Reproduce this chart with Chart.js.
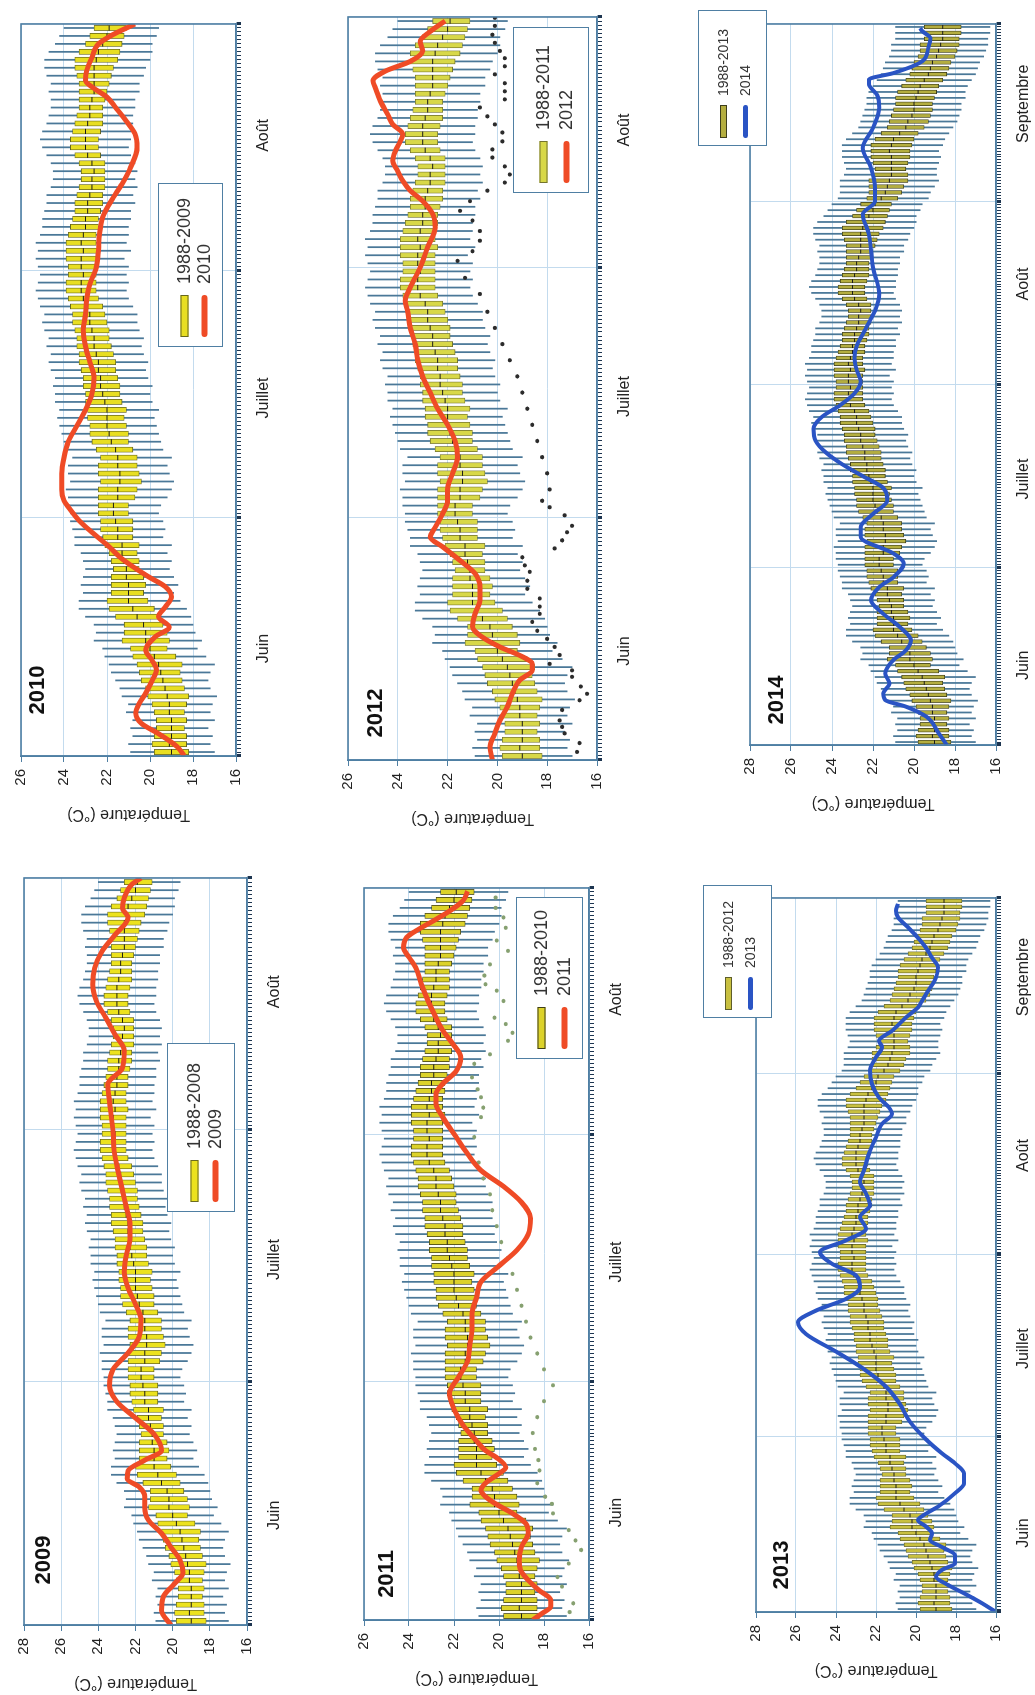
<!DOCTYPE html>
<html lang="fr">
<head>
<meta charset="utf-8">
<title>Températures 2009-2014</title>
<script src="https://cdn.jsdelivr.net/npm/chart.js@4.4.1/dist/chart.umd.min.js"></script>
<style>
  html, body { margin: 0; padding: 0; background: #fff; }
  body { width: 1035px; height: 1695px; overflow: hidden; position: relative; }
  /* the figure is laid out in its own (landscape) frame, then turned a quarter left */
  #fig { position: absolute; left: 0; top: 0; width: 1695px; height: 1035px;
         transform-origin: 0 0; transform: translate(0, 1695px) rotate(-90deg); }
  .panel { position: absolute; }
  .year { position: absolute; font: bold 22px "Liberation Sans", Arial, sans-serif; color: #111;
          transform: translate(-50%, -50%); white-space: nowrap; }
  .leg { position: absolute; box-sizing: border-box; border: 1.5px solid #4f7fa3; background: #fff;
         font-family: "Liberation Sans", Arial, sans-serif; color: #333; }
  .leg .row { position: absolute; display: flex; align-items: center; white-space: nowrap;
              transform: translateY(-50%); }
  .leg .sym { display: inline-block; box-sizing: border-box; }
</style>
</head>
<body>
<div id="fig"></div>
<script>
// ─── axis labels ───
const monthNames = ['Juin', 'Juillet', 'Août', 'Septembre'];
const monthLabelAt = [14, 45.5, 78.5, 109];
const monthEdges = [0.5, 30.5, 61.5, 92.5, 122.5];

// ─── reference period, daily box plots (1 = 1 June) ───
const climLow = [17.0,17.2,17.1,17.3,17.0,17.2,17.1,16.9,17.2,17.3, 17.2,17.0,17.4,17.8,17.6,17.9,18.0,18.1,18.3,18.6,
  18.9,18.7,18.9,19.1,19.0,19.2,19.0,19.4,19.3,19.4, 19.6,19.5,19.2,19.0,18.9,19.1,19.2,19.0,19.4,19.5,
  19.6,19.7,19.8,19.6,19.9,20.0,19.9,20.1,20.2,20.1, 20.3,20.4,20.3,20.5,20.6,20.6,20.8,21.0,21.1,21.0,
  21.1,21.0,21.2,20.9,21.1,21.0,21.0,20.9,20.9,20.7, 20.8,20.6,20.7,20.6,20.7,20.9,21.0,20.9,20.9,20.8,
  20.8,20.7,20.7,20.5,20.5,20.3,20.2,20.0,19.9,19.9, 19.7,19.6,19.3,19.2,19.0,18.8,18.9,18.9,18.8,18.7,
  18.8,18.6,18.5,18.3,18.1,17.9,17.8,17.7,17.7,17.5, 17.5,17.4,17.2,17.0,16.9,16.8,16.6,16.5,16.4,16.4,
  16.3,16.3];
const climQ1 = [18.2,18.3,18.3,18.4,18.3,18.4,18.3,18.2,18.4,18.5, 18.6,18.5,18.8,19.2,19.1,19.2,19.4,19.6,19.8,20.1,
  20.3,20.2,20.3,20.5,20.5,20.6,20.5,20.8,20.8,20.8, 21.0,21.0,20.7,20.6,20.4,20.5,20.6,20.6,20.8,21.0,
  21.0,21.1,21.2,21.1,21.3,21.4,21.4,21.5,21.6,21.6, 21.7,21.8,21.9,21.9,22.0,22.1,22.2,22.4,22.5,22.5,
  22.5,22.5,22.5,22.4,22.5,22.5,22.4,22.4,22.3,22.2, 22.2,22.1,22.1,22.1,22.1,22.3,22.4,22.4,22.3,22.2,
  22.2,22.2,22.1,22.0,21.9,21.8,21.7,21.5,21.4,21.3, 21.2,21.1,20.8,20.6,20.5,20.3,20.3,20.4,20.3,20.2,
  20.2,20.1,20.0,19.8,19.5,19.3,19.2,19.1,19.1,19.0, 18.9,18.8,18.6,18.4,18.3,18.2,18.0,17.9,17.8,17.8,
  17.7,17.7];
const climMed = [19.0,19.1,19.0,19.0,19.0,19.1,19.1,19.2,19.3,19.4, 19.5,19.6,19.8,20.0,20.2,20.2,20.3,20.6,20.8,21.0,
  21.0,21.0,21.1,21.1,21.2,21.3,21.3,21.5,21.5,21.6, 21.7,21.7,21.5,21.5,21.4,21.4,21.5,21.5,21.6,21.8,
  21.9,22.0,22.0,22.0,22.1,22.2,22.3,22.3,22.4,22.4, 22.5,22.6,22.6,22.7,22.8,22.8,22.9,23.1,23.2,23.2,
  23.1,23.2,23.2,23.1,23.2,23.1,23.0,23.0,22.9,22.9, 22.8,22.7,22.7,22.6,22.7,22.9,23.0,23.0,23.0,22.9,
  22.8,22.8,22.7,22.6,22.6,22.6,22.6,22.5,22.4,22.2, 22.0,21.9,21.6,21.4,21.3,21.2,21.1,21.1,21.1,21.1,
  21.2,21.1,21.0,20.7,20.4,20.3,20.1,20.0,20.0,19.9, 19.8,19.7,19.5,19.3,19.2,19.1,18.9,18.8,18.7,18.6,
  18.6,18.6];
const climQ3 = [19.8,19.9,19.8,19.7,19.7,19.8,19.9,20.1,20.2,20.4, 20.5,20.6,20.8,20.9,21.3,21.2,21.2,21.6,21.9,22.0,
  21.8,21.8,21.8,21.7,21.8,21.9,22.1,22.2,22.3,22.3, 22.4,22.4,22.4,22.4,22.3,22.4,22.4,22.3,22.5,22.7,
  22.8,22.8,22.9,22.9,23.0,23.0,23.1,23.1,23.2,23.3, 23.3,23.4,23.4,23.5,23.6,23.6,23.7,23.8,23.9,23.9,
  23.8,23.8,23.9,23.9,23.9,23.8,23.7,23.6,23.5,23.5, 23.4,23.3,23.2,23.2,23.3,23.5,23.7,23.7,23.6,23.5,
  23.4,23.3,23.3,23.3,23.3,23.4,23.5,23.5,23.3,23.0, 22.8,22.6,22.3,22.2,22.2,22.2,22.0,21.9,22.0,22.1,
  22.1,22.1,21.9,21.6,21.3,21.2,21.1,21.0,20.9,20.9, 20.8,20.6,20.4,20.2,20.1,20.0,19.8,19.7,19.7,19.5,
  19.5,19.5];
const climHigh = [20.9,21.0,20.8,20.9,20.8,21.1,21.0,21.3,21.4,21.6, 21.8,21.9,22.1,22.2,22.6,22.5,22.6,23.0,23.3,23.3,
  23.1,23.2,23.1,23.0,23.1,23.2,23.5,23.5,23.6,23.7, 23.7,23.8,23.8,23.9,23.7,23.8,23.8,23.6,23.9,24.0,
  24.1,24.2,24.3,24.2,24.4,24.4,24.5,24.4,24.6,24.7, 24.6,24.8,24.7,24.9,25.0,24.9,25.1,25.2,25.3,25.2,
  25.1,25.2,25.3,25.2,25.3,25.1,25.0,25.0,24.9,24.8, 24.8,24.6,24.5,24.5,24.6,24.8,25.0,25.1,25.0,24.8,
  24.7,24.6,24.6,24.7,24.6,24.8,24.9,24.9,24.7,24.4, 24.2,24.0,23.7,23.6,23.6,23.6,23.4,23.3,23.4,23.5,
  23.5,23.5,23.3,23.0,22.7,22.6,22.5,22.4,22.3,22.3, 22.2,22.0,21.8,21.6,21.5,21.4,21.2,21.1,21.1,20.9,
  20.9,20.9];

// ─── year curves ───
const days2009 = [0.5,2.3,4,5.6,6.9,8.5,10.1,11.8,13.4,15, 16.3,17.5,18.5,19.5,20.8,22,24,26,28,30,
  32,34,36,38,40,42,44,46,48,50, 52,54,56,58.9,61,65,67.1,69.1,71.2,73.2,
  75.3,77.3,79.4,81.4,83.5,85.5,87.6,88.8,90.1,91.7, 92.5];
const temp2009 = [20.1,20.6,20.5,19.9,19.45,19.6,20.1,20.6,21.3,21.5, 21.5,21.8,22.45,22.4,21.5,20.6,21.0,22.0,23.0,23.4,
  23.2,22.4,21.8,21.7,22.0,22.4,22.6,22.5,22.3,22.3, 22.5,22.7,22.9,23.15,23.2,23.4,23.5,22.7,22.6,23.1,
  23.6,24.1,24.3,24.2,23.8,23.1,22.4,22.7,22.6,22.2, 21.7];

const days2010 = [0.5,1.7,3.3,4.6,5.9,7.1,8.4,10,11.3,12.5, 13.8,15.5,16.7,18,19.2,20.5,21.8,23,24.3,25.5,
  26.8,28.5,30.1,31.8,32.6,34,36,38,40,42, 44,46,48,50,52,54,56,57.7,59.8,61.9,
  64,66.1,68.2,70.3,72.4,74.5,77,78.7,80.3,82, 83.3,84.5,85.4,86.6,88.3,90,91.2,92.5];
const temp2010 = [18.4,18.75,19.6,20.4,20.66,20.5,20.2,19.9,19.7,19.9, 20.2,19.75,19.1,19.6,19.3,19.0,19.3,20.05,20.8,21.4,
  21.9,22.65,23.3,23.8,24.0,24.1,24.1,24.0,23.8,23.4, 23.0,22.7,22.6,22.8,23.0,23.1,23.0,22.95,22.8,22.5,
  22.4,22.35,22.2,21.8,21.3,20.9,20.6,20.7,21.1,21.6, 22.0,22.65,23.0,22.95,22.7,22.4,21.7,20.7];

const days2011 = [0.5,1.3,2.2,3,4.3,5.5,6.8,8,9.7,11.4, 12.6,13.9,15.1,16,16.8,17.7,18.9,19.7,21,21.8,
  23,25,27,29,31,33,35,37,39,41, 43,45,47,49,51,53,55,57,59.5,61.2,
  63.7,65.4,66.6,67.9,69.5,71.2,72.9,74.6,76.2,78.3, 80.4,82.5,83.8,85,86.3,87.1,88.4,89.6,90.9,92.1];
const temp2011 = [18.5,18.1,17.7,17.7,18.25,18.7,19.05,19.1,19.0,18.7, 18.8,19.4,20.15,20.6,20.8,20.6,20.0,19.7,20.15,20.6,
  21.0,21.6,22.0,22.2,21.8,21.4,21.3,21.2,21.2,21.0, 20.8,20.0,19.2,18.7,18.6,19.0,19.8,20.8,21.5,21.9,
  22.5,22.8,22.8,22.5,21.9,21.7,22.05,22.5,22.8,23.15, 23.45,23.7,24.0,24.25,24.1,23.7,22.9,22.2,21.6,21.4];

const days2012 = [0.5,2.1,3.8,5.4,7.1,8.7,10.4,11.6,12.4,13.3, 14.5,15.7,17,18.6,20.3,21.9,23.6,25.2,26.9,28.1,
  29.3,31,32.6,34,36,38,40,42,44,46, 48,50,52,54,56,57.4,59,61.5,64,66.4,
  68.1,69.7,71,72.2,73.4,74.7,75.9,77.1,78,79.2, 80.4,82.1,83.7,84.6,85.8,87,88.3,89.5,90.7,92];
const temp2012 = [20.2,20.3,20.1,19.9,19.6,19.4,19.1,18.6,18.6,19.0, 19.9,20.6,21.0,20.9,20.7,20.7,20.9,21.5,22.2,22.7,
  22.5,22.2,22.0,22.0,21.8,21.6,21.7,22.0,22.4,22.7, 23.0,23.2,23.3,23.5,23.6,23.7,23.5,23.1,22.8,22.5,
  22.6,23.0,23.5,23.8,24.0,24.2,24.1,23.9,23.8,24.2, 24.4,24.7,24.9,25.0,24.5,23.5,23.0,23.1,22.7,22.1];

const days2013 = [0.5,2,3.7,5.4,6.5,7.7,8.8,10.2,11.6,12.8, 13.9,15.1,16.2,17.3,18.5,20.8,22.5,24.2,25.9,27.6,
  30,33,36,39,42,45,48,50,52,54, 56,58,60,62,64,66,68,70,72,74,
  76,79.3,81.6,83.9,85.6,86.7,88.4,90.7,93,95.3, 97,98.1,99.8,102.1,103.8,104.9,106.6,108.9,110.6,112.3,
  114,115.7,117.5,119.2,120.3,121.5];
const temp2013 = [16.0,16.7,17.6,18.55,19.0,18.7,18.05,18.05,18.7,19.3, 19.2,19.5,19.9,19.5,18.9,18.05,17.6,17.6,18.05,18.7,
  19.5,20.3,20.8,21.5,22.6,24.0,25.5,25.9,25.0,23.5, 22.8,23.0,24.2,24.8,23.5,22.5,22.8,22.3,22.5,22.8,
  22.6,22.3,22.0,21.7,21.2,21.35,21.85,22.2,22.3,22.0, 21.7,21.85,21.2,20.5,19.9,19.7,19.4,19.0,18.9,19.2,
  19.5,19.9,20.4,20.9,21.0,20.9];

const days2014 = [0.5,2.5,5.3,7,8.1,9.2,10.9,12.6,14.9,16.5, 18.2,20.5,22.7,25,27.2,28.9,31.2,32.9,35.7,37.4,
  39.6,41.9,44,46,48,50,52,54,56,58, 60,62,64,66,68,70,72,74,76.8,81.3,
  86.9,90.3,92.5,94.8,98.2,101.5,104.9,108.3,110.5,112.3, 113.1,114.2,116.2,118.5,120.1,121.3,121.8];
const temp2014 = [18.4,18.8,19.4,20.4,21.4,21.5,21.2,21.4,21.0,20.4, 20.15,20.7,21.5,22.1,21.7,21.0,20.5,21.0,22.6,22.6,
  22.0,21.3,21.5,22.5,23.5,24.3,24.8,24.9,24.5,23.6, 22.9,22.6,22.8,22.9,22.8,22.5,22.2,21.9,21.7,22.0,
  22.2,22.5,21.9,21.9,22.1,22.5,22.0,21.7,21.8,22.2, 22.2,21.0,19.6,19.3,19.2,19.6,19.7];

// ─── dotted curves (2011, 2012 panels) ───
const dotDays2011 = [1.5,2.6,4.7,5.9,7.6,9.3,10.5,11.8,13.9,15.1, 16,17.7,19.3,20.6,22,24,26,28,30,32,
  34,36,38,40,42,44,46,48,50,52, 54,56,58,61.2,63.7,64.9,66.2,67.2,68.7,70.4,
  71.6,73.3,74.3,75.4,76.2,78.3,79.6,80.4,81.5,82.9, 84.6,85.9,87.5,88.8,90,91.3];
const dotTemp2011 = [16.86,16.7,17.2,17.4,16.9,16.35,16.6,16.9,17.6,17.65, 17.95,18.3,18.2,18.25,18.4,18.5,18.3,18.0,17.6,18.0,
  18.3,18.6,18.8,19.0,19.2,19.4,19.6,19.9,20.1,20.3, 20.4,20.7,20.9,21.1,20.8,20.7,20.8,20.95,21.2,21.1,
  20.4,19.6,19.4,19.7,20.2,19.8,20.1,20.6,20.65,20.4, 19.6,20.1,19.7,19.8,20.15,20.15];

const dotDays2012 = [1.5,2.6,3.8,4.6,5.4,6.7,7.9,8.7,9.6,10.8, 11.6,12.4,13.5,14.5,15.5,16.5,17.6,18.6,19.5,20.5,
  21.7,22.7,23.8,24.6,25.6,26.7,27.7,28.7,29.5,30.8, 31.8,32.6,34,36,38,40,42,44,46,48,
  50,52,54,56,58.2,60.2,62.3,63.5,64.8,66, 67.3,68.5,69.7,71,72,73,74,75.1,76.1,77.1,
  78.2,79.2,80.2,81.3,82.3,83.3,84.3,85.4,86.4,87.4, 88.3,89.3,90.3,91.4,92.4];
const dotTemp2012 = [16.8,16.7,17.3,17.4,17.5,17.4,16.7,16.4,16.65,17.0, 17.0,17.9,17.5,17.7,18.0,18.4,18.6,18.3,18.3,18.3,
  18.8,18.8,18.7,18.9,19.0,17.7,17.4,17.2,17.0,17.3, 17.9,18.2,17.9,18.0,18.2,18.4,18.6,18.8,19.0,19.2,
  19.5,19.8,20.1,20.4,20.7,21.3,21.6,21.0,20.7,20.7, 21.0,21.5,21.1,20.4,19.7,19.5,19.7,20.2,20.2,19.8,
  19.8,20.1,20.4,20.7,19.7,19.7,19.7,20.1,19.7,19.7, 19.9,20.1,20.2,20.1,20.1];

const RED = '#ef4b26', BLUE = '#2a54c4';
const FRAME = '#4f7fa3', GRID = '#c3dbee';
const FONT = '"Liberation Sans", Arial, sans-serif';

Chart.defaults.font.family = FONT;
Chart.defaults.color = '#222';
Chart.defaults.animation = false;

// plot areas in the landscape frame (px)
const panels = [
  { year: '2009', ref: '1988-2008', L: 70,  R: 818,  T: 20,  B: 247, ymax: 28, n: 92,  color: RED,
    days: days2009, temps: temp2009, yearAt: [135, 43], fill: '#ece21e', edge: '#6b6b22',
    legend: { x: 483, y: 167, w: 169, h: 68, r1: 26, r2: 47, font: 18, sym: 42 } },
  { year: '2010', ref: '1988-2009', L: 939, R: 1672, T: 17,  B: 236, ymax: 26, n: 92,  color: RED,
    days: days2010, temps: temp2010, yearAt: [1005, 37], fill: '#e8de22', edge: '#66661f',
    legend: { x: 1348, y: 158, w: 164, h: 65, r1: 25, r2: 45, font: 18, sym: 42 } },
  { year: '2011', ref: '1988-2010', L: 75,  R: 808,  T: 360, B: 589, ymax: 26, n: 92,  color: RED,
    days: days2011, temps: temp2011, yearAt: [121, 386], fill: '#dcd22a', edge: '#3e3e18',
    dots: [dotDays2011, dotTemp2011, '#86a070'],
    legend: { x: 636, y: 516, w: 162, h: 67, r1: 24, r2: 47, font: 18, sym: 42 } },
  { year: '2012', ref: '1988-2011', L: 935, R: 1679, T: 344, B: 597, ymax: 26, n: 92,  color: RED,
    days: days2012, temps: temp2012, yearAt: [982, 375], fill: '#d8d848', edge: '#74742e',
    dots: [dotDays2012, dotTemp2012, '#2b2b2b'],
    legend: { x: 1502, y: 513, w: 166, h: 76, r1: 29, r2: 52, font: 18, sym: 42 } },
  { year: '2013', ref: '1988-2012', L: 83,  R: 798,  T: 752, B: 996, ymax: 28, n: 122, color: BLUE,
    days: days2013, temps: temp2013, yearAt: [130, 781], fill: '#c8c040', edge: '#5e5e2a',
    legend: { x: 677, y: 703, w: 133, h: 69, r1: 24, r2: 46, font: 14, sym: 33 } },
  { year: '2014', ref: '1988-2013', L: 950, R: 1672, T: 746, B: 996, ymax: 28, n: 122, color: BLUE,
    days: days2014, temps: temp2014, yearAt: [995, 776], fill: '#b4ae40', edge: '#3e3e1c',
    legend: { x: 1549, y: 698, w: 136, h: 69, r1: 24, r2: 46, font: 14, sym: 33 } }
];

const AX_W = 70, AX_H = 46, PAD_T = 12, PAD_R = 12;
const fig = document.getElementById('fig');

const framePlugin = {
  id: 'frame',
  afterDatasetsDraw(chart) {
    const a = chart.chartArea, ctx = chart.ctx;
    ctx.save();
    ctx.strokeStyle = FRAME;
    ctx.lineWidth = 1.6;
    ctx.strokeRect(a.left, a.top, a.right - a.left, a.bottom - a.top);
    ctx.restore();
  }
};

function buildPanel(p) {
  const wrap = document.createElement('div');
  wrap.className = 'panel';
  wrap.style.left = (p.L - AX_W) + 'px';
  wrap.style.top = (p.T - PAD_T) + 'px';
  const cv = document.createElement('canvas');
  cv.width = p.R - p.L + AX_W + PAD_R;
  cv.height = p.B - p.T + PAD_T + AX_H;
  wrap.appendChild(cv);
  fig.appendChild(wrap);

  const n = p.n;
  const wide = n > 100;
  const whisk = [], boxes = [], meds = [];
  for (let i = 0; i < n; i++) {
    whisk.push({ x: i + 1, y: [climLow[i], climHigh[i]] });
    boxes.push({ x: i + 1, y: [climQ1[i], climQ3[i]] });
    meds.push({ x: i + 1, y: climMed[i] });
  }
  const boxW = wide ? 3.8 : 5.2;

  const datasets = [
    {
      type: 'line', label: p.year, order: 0,
      data: p.days.map((d, i) => ({ x: d, y: p.temps[i] })),
      borderColor: p.color, borderWidth: wide ? 4 : 5, pointRadius: 0,
      cubicInterpolationMode: 'monotone', fill: false
    },
    {
      type: 'line', label: 'médiane', order: 2, data: meds, showLine: false,
      pointStyle: 'line', pointRadius: boxW / 2, pointBorderColor: '#1a1a1a', pointBorderWidth: 1
    },
    {
      type: 'bar', label: p.ref, order: 3, data: boxes, grouped: false,
      backgroundColor: p.fill, borderColor: p.edge, borderWidth: 0.8,
      borderSkipped: false, barThickness: boxW
    },
    {
      type: 'bar', label: 'extrêmes', order: 4, data: whisk, grouped: false,
      backgroundColor: '#4a7898', borderWidth: 0, barThickness: 1.1
    }
  ];
  if (p.dots) {
    datasets.push({
      type: 'line', label: 'points', order: 1,
      data: p.dots[0].map((d, i) => ({ x: d, y: p.dots[1][i] })),
      showLine: false, pointRadius: 2.1, pointBorderWidth: 0,
      pointBackgroundColor: p.dots[2]
    });
  }

  new Chart(cv, {
    type: 'line',
    data: { datasets },
    plugins: [framePlugin],
    options: {
      responsive: false,
      events: [],
      layout: { padding: { top: PAD_T, right: PAD_R, left: 0, bottom: 0 } },
      plugins: { legend: { display: false }, tooltip: { enabled: false } },
      scales: {
        x: {
          type: 'linear', min: 0.5, max: n + 0.5, offset: false,
          afterBuildTicks: s => {
            const t = [];
            for (let k = 1; k <= 2 * n + 1; k++) t.push({ value: k * 0.5 });
            s.ticks = t;
          },
          afterFit: s => { s.height = AX_H; },
          ticks: {
            autoSkip: false, maxRotation: 0, minRotation: 0, padding: 13,
            color: '#222', font: { size: 16 },
            callback: v => {
              const i = monthLabelAt.indexOf(v);
              return i >= 0 ? monthNames[i] : '';
            }
          },
          grid: {
            offset: false, tickLength: 5,
            color: c => (c.tick && monthEdges.includes(c.tick.value)) ? GRID : 'rgba(0,0,0,0)',
            tickColor: '#1d3550',
            tickWidth: c => (c.tick && monthEdges.includes(c.tick.value)) ? 3 : 1
          },
          border: { color: FRAME, width: 1.6 }
        },
        y: {
          min: 16, max: p.ymax,
          afterFit: s => { s.width = AX_W; },
          ticks: { stepSize: 2, color: '#222', font: { size: 15 }, padding: 7 },
          grid: { color: GRID, tickColor: FRAME, tickLength: 6 },
          border: { color: FRAME, width: 1.6 },
          title: { display: true, text: 'Température (°C)', color: '#222',
                   font: { size: 16 }, padding: { top: 2, bottom: 4 } }
        }
      }
    }
  });

  // year tag
  const y = document.createElement('div');
  y.className = 'year';
  y.textContent = p.year;
  y.style.left = p.yearAt[0] + 'px';
  y.style.top = p.yearAt[1] + 'px';
  fig.appendChild(y);

  // legend
  const g = p.legend;
  const box = document.createElement('div');
  box.className = 'leg';
  Object.assign(box.style, { left: g.x + 'px', top: g.y + 'px', width: g.w + 'px',
                             height: g.h + 'px', fontSize: g.font + 'px' });
  [[p.ref, g.r1, 'box'], [p.year, g.r2, 'line']].forEach(([txt, top, kind]) => {
    const row = document.createElement('div');
    row.className = 'row';
    row.style.left = Math.round(g.sym * 0.22) + 'px';
    row.style.top = top + 'px';
    const s = document.createElement('span');
    s.className = 'sym';
    s.style.width = g.sym + 'px';
    if (kind === 'box') {
      s.style.height = (wide ? 7 : 8) + 'px';
      s.style.background = p.fill;
      s.style.border = '1px solid ' + p.edge;
    } else {
      s.style.height = (wide ? 5 : 6) + 'px';
      s.style.background = p.color;
      s.style.borderRadius = '3px';
    }
    const t = document.createElement('span');
    t.textContent = txt;
    t.style.marginLeft = Math.round(g.sym * 0.27) + 'px';
    row.appendChild(s);
    row.appendChild(t);
    box.appendChild(row);
  });
  fig.appendChild(box);
}

panels.forEach(buildPanel);
</script>
</body>
</html>
